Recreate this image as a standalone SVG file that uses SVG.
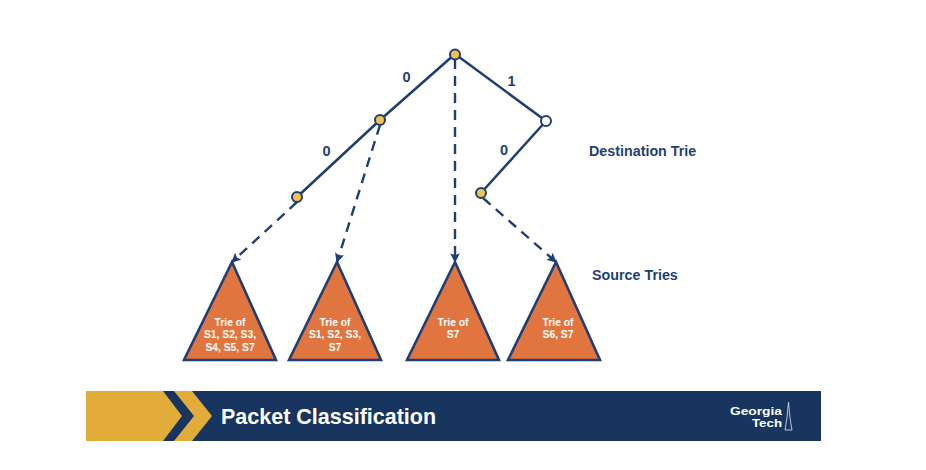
<svg xmlns="http://www.w3.org/2000/svg" width="926" height="470" viewBox="0 0 926 470">
<style>
text{font-family:"Liberation Sans",Arial,sans-serif}
.e{fill:none;stroke:#1f3f73;stroke-width:2.6}
.d{fill:none;stroke:#1f3f73;stroke-width:2.4;stroke-dasharray:10 7;marker-end:url(#a)}
.n{stroke:#1f3f73;stroke-width:2;fill:#f2c14e}
.t{fill:#e07540;stroke:#1f3f73;stroke-width:2.6;stroke-linejoin:miter}
.l{fill:#1f3f73;font-size:14.5px;font-weight:bold;text-anchor:middle}
.h{fill:#1f3f73;font-size:14.3px;font-weight:bold}
.w{fill:#fff;font-size:10.300px;font-weight:bold;text-anchor:middle}
</style>
<defs><marker id="a" viewBox="0 0 10 10" refX="9" refY="5" markerWidth="4" markerHeight="4" orient="auto"><path d="M0 0L10 5L0 10L2 5Z" fill="#1f3f73"/></marker></defs>
<rect width="926" height="470" fill="#fff"/>
<g id="connectors">
<path class="e" d="M455 54L380 120"/>
<path class="e" d="M380 120L297 197"/>
<path class="e" d="M455 54L546 121"/>
<path class="e" d="M546 121L481 193"/>
<path class="d" d="M297 202L232 262"/>
<path class="d" d="M380 125L337 262"/>
<path class="d" d="M455 59V262"/>
<path class="d" d="M483 198L556 262"/>
</g>
<g id="node-root"><circle class="n" cx="455" cy="54.500" r="5"/></g>
<g id="node-0"><circle class="n" cx="380" cy="120" r="5"/></g>
<g id="node-00"><circle class="n" cx="297" cy="197" r="5"/></g>
<g id="node-1"><circle class="n" cx="546" cy="121" r="5" style="fill:#fff"/></g>
<g id="node-10"><circle class="n" cx="481" cy="193" r="5"/></g>
<text class="l" x="406.500" y="81.500">0</text>
<text class="l" x="326.500" y="155.500">0</text>
<text class="l" x="511.500" y="85.500">1</text>
<text class="l" x="504" y="155">0</text>
<text class="h" x="589" y="155.500">Destination Trie</text>
<text class="h" x="592" y="279.500">Source Tries</text>
<g id="trie-1"><path class="t" d="M232 262L276 360H184Z"/><text class="w" x="230" y="325.500">Trie of</text><text class="w" x="230" y="338">S1, S2, S3,</text><text class="w" x="230" y="351">S4, S5, S7</text></g>
<g id="trie-2"><path class="t" d="M337 262L381 360H289Z"/><text class="w" x="335" y="325.500">Trie of</text><text class="w" x="335" y="338">S1, S2, S3,</text><text class="w" x="335" y="351">S7</text></g>
<g id="trie-3"><path class="t" d="M455 262L499 360H407Z"/><text class="w" x="453" y="325.500">Trie of</text><text class="w" x="453" y="338">S7</text></g>
<g id="trie-4"><path class="t" d="M556 262L600 360H508Z"/><text class="w" x="558" y="325.500">Trie of</text><text class="w" x="558" y="338">S6, S7</text></g>
<g id="banner">
<rect x="86" y="391" width="735" height="50" fill="#17355f"/>
<path d="M86 391H163L182 416L163 441H86Z" fill="#e2ac3b"/>
<path d="M174 391H192L212 416L192 441H174L194 416Z" fill="#e2ac3b"/>
<text x="221" y="424" fill="#fff" font-size="21.500" font-weight="bold">Packet Classification</text>
<text x="730" y="415" fill="#fff" font-size="11.500" font-weight="bold" textLength="52" lengthAdjust="spacingAndGlyphs">Georgia</text>
<text x="752" y="426.500" fill="#fff" font-size="11.500" font-weight="bold" textLength="30" lengthAdjust="spacingAndGlyphs">Tech</text>
<path d="M788.500 402L790 418L792 430H785L787 418Z" fill="none" stroke="#dfe5ee" stroke-width="0.800"/>
</g>
</svg>
